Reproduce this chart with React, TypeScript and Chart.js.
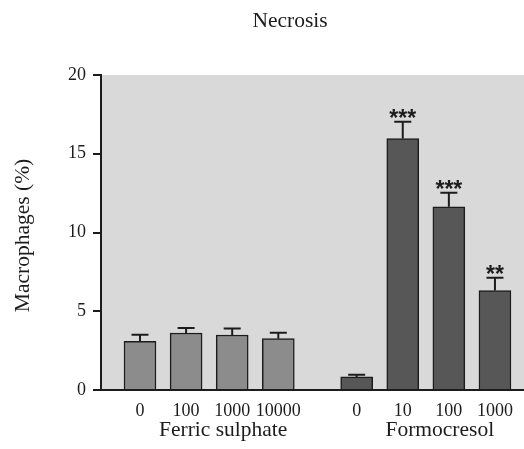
import React, { useEffect, useRef } from "react";
import { Chart, registerables } from "chart.js";

Chart.register(...registerables);

const chartTitle = "Necrosis";
const yAxisTitle = "Macrophages (%)";
const groups = ["Ferric sulphate", "Formocresol"];
const categories = ["0", "100", "1000", "10000", "0", "10", "100", "1000"];
const groupOf = [0, 0, 0, 0, 1, 1, 1, 1];
const xPositions = [0, 1, 2, 3, 4.7, 5.7, 6.7, 7.7];
const means = [3.09, 3.62, 3.49, 3.26, 0.83, 15.97, 11.63, 6.31];
const errors = [0.42, 0.32, 0.41, 0.38, 0.14, 1.06, 0.89, 0.81];
const significance = ["", "", "", "", "", "***", "***", "**"];
const yTicks = [0, 5, 10, 15, 20];

const groupColors = ["#8c8c8c", "#575757"];
const ink = "#1c1c1c";
const serif = "'Liberation Serif', 'Times New Roman', serif";

const decorPlugin = {
  id: "decor",
  beforeDraw(chart: any) {
    const { ctx, chartArea } = chart;
    ctx.save();
    ctx.fillStyle = "#d9d9d9";
    ctx.fillRect(chartArea.left, chartArea.top, chartArea.right - chartArea.left, chartArea.bottom - chartArea.top);
    ctx.restore();
  },
  afterDatasetsDraw(chart: any) {
    const { ctx } = chart;
    const meta = chart.getDatasetMeta(0);
    const yScale = chart.scales.y;
    ctx.save();
    ctx.strokeStyle = ink;
    ctx.lineWidth = 2;
    meta.data.forEach((bar: any, i: number) => {
      const top = yScale.getPixelForValue(means[i] + errors[i]);
      ctx.beginPath();
      ctx.moveTo(bar.x, bar.y);
      ctx.lineTo(bar.x, top);
      ctx.moveTo(bar.x - 8.5, top);
      ctx.lineTo(bar.x + 8.5, top);
      ctx.stroke();
      const s = significance[i];
      if (s) {
        ctx.font = "bold 23px 'Liberation Sans', Arial, sans-serif";
        ctx.fillStyle = ink;
        ctx.textAlign = "center";
        ctx.textBaseline = "alphabetic";
        const m = ctx.measureText(s);
        const target = top - 8;
        const base = target + (m.actualBoundingBoxAscent - m.actualBoundingBoxDescent) / 2;
        ctx.fillText(s, bar.x, base);
      }
    });
    ctx.restore();
  },
  afterDraw(chart: any) {
    const { ctx, chartArea } = chart;
    const meta = chart.getDatasetMeta(0);
    ctx.save();
    ctx.fillStyle = ink;
    ctx.font = "21.5px " + serif;
    ctx.textAlign = "center";
    ctx.textBaseline = "alphabetic";
    ctx.fillText(chartTitle, 290, 27);
    groups.forEach((g, gi) => {
      const xs = meta.data.filter((_: any, i: number) => groupOf[i] === gi).map((b: any) => b.x);
      const cx = (Math.min(...xs) + Math.max(...xs)) / 2 + 14;
      ctx.fillText(g, cx, 436);
    });
    ctx.translate(29, (chartArea.top + chartArea.bottom) / 2 + 3);
    ctx.rotate(-Math.PI / 2);
    ctx.fillText(yAxisTitle, 0, 0);
    ctx.restore();
  },
};

export default function App() {
  const ref = useRef<HTMLCanvasElement>(null);
  useEffect(() => {
    if (!ref.current) return;
    const chart = new Chart(ref.current, {
      type: "bar",
      data: {
        datasets: [
          {
            data: xPositions.map((x, i) => ({ x, y: means[i] })),
            backgroundColor: groupOf.map((g) => groupColors[g]),
            borderColor: ink,
            borderWidth: 1.5,
            barThickness: 32,
          } as any,
        ],
      },
      options: {
        animation: false,
        responsive: false,
        devicePixelRatio: 1,
        layout: { padding: { top: 75, right: 0, left: 0, bottom: 0 } },
        plugins: { legend: { display: false }, tooltip: { enabled: false }, title: { display: false } },
        scales: {
          x: {
            type: "linear",
            offset: false,
            min: -0.846,
            max: 8.33,
            grid: { display: false, drawTicks: false },
            border: { display: true, color: ink, width: 2 },
            afterBuildTicks: (s: any) => {
              s.ticks = xPositions.map((v) => ({ value: v }));
            },
            afterFit: (s: any) => {
              s.height = 59;
            },
            ticks: {
              autoSkip: false,
              maxRotation: 0,
              padding: 10,
              color: ink,
              font: { family: serif, size: 18 },
              callback: (_v: any, i: number) => categories[i],
            },
          },
          y: {
            min: 0,
            max: 20,
            afterBuildTicks: (s: any) => {
              s.ticks = yTicks.map((v) => ({ value: v }));
            },
            afterFit: (s: any) => {
              s.width = 101;
            },
            grid: { drawOnChartArea: false, drawTicks: true, tickLength: 8, color: ink, lineWidth: 2 },
            border: { display: true, color: ink, width: 2 },
            ticks: { padding: 7, color: ink, font: { family: serif, size: 18 } },
          },
        },
      } as any,
      plugins: [decorPlugin],
    });
    return () => chart.destroy();
  }, []);
  return (
    <div style={{ position: "absolute", left: 0, top: 0, width: 524, height: 449, background: "#fff" }}>
      <canvas ref={ref} width={524} height={449} />
    </div>
  );
}
